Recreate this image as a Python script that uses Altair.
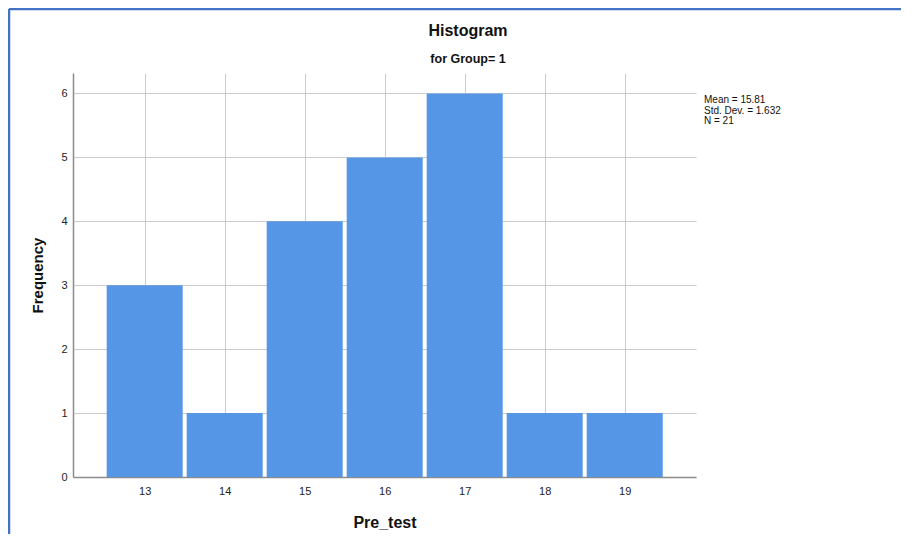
import altair as alt
import pandas as pd

bin_centers = [13, 14, 15, 16, 17, 18, 19]
frequencies = [3, 1, 4, 5, 6, 1, 1]
x_ticks = [13, 14, 15, 16, 17, 18, 19]
y_ticks = [0, 1, 2, 3, 4, 5, 6]
stats_text = "Mean = 15.81\nStd. Dev. = 1.632\nN = 21"
title_text = "Histogram"
subtitle_text = "for Group= 1"

df = pd.DataFrame({
    "start": [c - 0.5 for c in bin_centers],
    "end": [c + 0.5 for c in bin_centers],
    "freq": frequencies,
})

W, H = 623, 404

xscale = alt.Scale(domain=[12.104, 19.891], nice=False, zero=False)
yscale = alt.Scale(domain=[0, 6.32], nice=False)

bars = alt.Chart(df).mark_bar(color="#5596E6", xOffset=2, x2Offset=-2).encode(
    x=alt.X("start:Q", scale=xscale,
            axis=alt.Axis(values=x_ticks, title="Pre_test", grid=True, ticks=False,
                          labelPadding=8, labelFontSize=11, labelColor="#222222",
                          domainColor="#8c8c8c", domainWidth=1.5,
                          gridColor="#cccccc", gridWidth=1,
                          titleFontSize=16, titleFontWeight="bold", titleColor="#111111",
                          titleX=311.5, titleY=45, titleBaseline="middle", titleAlign="center",
                          labelFont="Liberation Sans", titleFont="Liberation Sans")),
    x2="end:Q",
    y=alt.Y("freq:Q", scale=yscale,
            axis=alt.Axis(values=y_ticks, title="Frequency", grid=True, ticks=False,
                          labelPadding=6, labelFontSize=11, labelColor="#222222",
                          domainColor="#8c8c8c", domainWidth=1.5,
                          gridColor="#cccccc", gridWidth=1,
                          titleFontSize=15, titleFontWeight="bold", titleColor="#111111",
                          titleX=-36, titleY=202, titleAngle=-90,
                          titleBaseline="middle", titleAlign="center",
                          labelFont="Liberation Sans", titleFont="Liberation Sans")),
    y2=alt.Y2(datum=0),
)

stats = alt.Chart(pd.DataFrame({"t": [stats_text]})).mark_text(
    align="left", baseline="top", fontSize=10, lineHeight=10.5, lineBreak="\n",
    font="Liberation Sans", color="#111111"
).encode(text="t:N", x=alt.value(631), y=alt.value(22))

title = alt.Chart(pd.DataFrame({"t": [title_text]})).mark_text(
    align="center", baseline="alphabetic", fontSize=16, fontWeight="bold",
    font="Liberation Sans", color="#111111"
).encode(text="t:N", x=alt.value(395), y=alt.value(-37))

subtitle = alt.Chart(pd.DataFrame({"t": [subtitle_text]})).mark_text(
    align="center", baseline="alphabetic", fontSize=12.5, fontWeight="bold",
    font="Liberation Sans", color="#111111"
).encode(text="t:N", x=alt.value(395), y=alt.value(-10))

border_top = alt.Chart(pd.DataFrame({"a": [0]})).mark_rule(color="#4472C4", strokeWidth=2.5).encode(
    x=alt.value(-64), x2=alt.value(850), y=alt.value(-64))
border_left = alt.Chart(pd.DataFrame({"a": [0]})).mark_rule(color="#4472C4", strokeWidth=2.5).encode(
    x=alt.value(-64), y=alt.value(-64), y2=alt.value(480))

chart = alt.layer(bars, stats, title, subtitle, border_top, border_left).properties(
    width=W, height=H,
    autosize=alt.AutoSizeParams(type="none"),
    padding={"left": 65, "top": 65, "right": 205, "bottom": 57},
).configure_view(stroke=None)

chart.save("out.html", embed_options={"renderer": "svg", "actions": False})
